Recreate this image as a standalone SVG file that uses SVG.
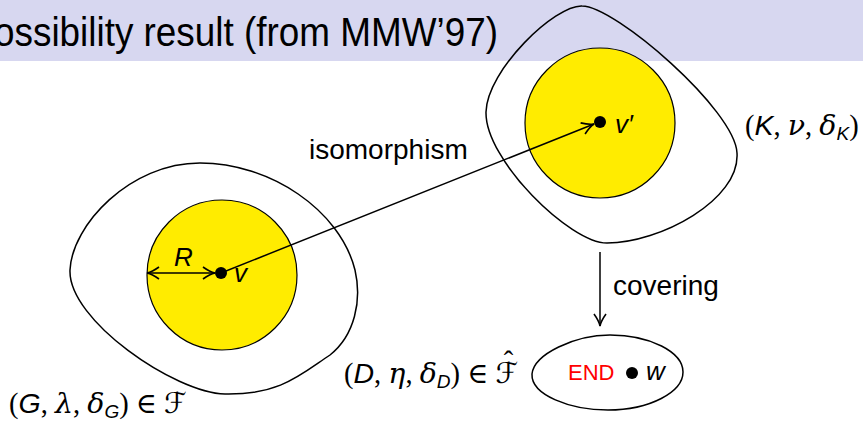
<svg xmlns="http://www.w3.org/2000/svg" width="863" height="424" viewBox="0 0 863 424">
<style>
.outline{fill:none;stroke:#000;stroke-width:1.5}
.disk{fill:#ffec00;stroke:#000;stroke-width:1.2}
.lbl{font-family:"Liberation Sans",Arial,sans-serif;font-size:28px;fill:#000}
.var{font-family:"Liberation Sans",Arial,sans-serif;font-style:italic;font-size:26px;fill:#000}
.math{font-family:"Liberation Serif","DejaVu Serif",serif;font-size:28.5px;fill:#000}
.gr{font-family:"DejaVu Serif","Liberation Serif",serif;font-style:italic}
.sv{font-family:"Liberation Sans",Arial,sans-serif;font-style:italic}
.sub{font-family:"Liberation Sans",Arial,sans-serif;font-style:italic;font-size:19px}
.cal{font-family:"DejaVu Serif","DejaVu Sans",serif;font-style:italic}
.conn{fill:none;stroke:#000;stroke-width:1.5}
</style>
<defs>
<marker id="ah" markerUnits="userSpaceOnUse" viewBox="-14 -8 16 16" markerWidth="16" markerHeight="16" refX="0" refY="0" orient="auto-start-reverse">
<path d="M -12,-6 Q -5,-1 0,0 Q -5,1 -12,6" fill="none" stroke="#000" stroke-width="1.6"/>
</marker>
</defs>
<rect x="0" y="0" width="863" height="61" fill="#d7d7f0"/>
<text x="-6" y="46" font-family="Liberation Sans,Arial,sans-serif" font-size="40" textLength="504" lengthAdjust="spacingAndGlyphs">ossibility result (from MMW’97)</text>

<g id="nodeG">
<path class="outline" d="M 70,270 C 72,225 130,163 200,163 C 270,163 340,210 355,270 C 362,300 355,335 330,355 C 300,375 280,395 225,394 C 175,393 68,320 70,270 Z"/>
<circle class="disk" cx="222" cy="275" r="75"/>
<circle cx="221" cy="273" r="6" fill="#000"/>
<text class="var" x="174" y="266">R</text>
<text class="var" x="234" y="282">v</text>
<text class="math" x="9" y="413">(<tspan class="sv">G</tspan>, <tspan class="gr">λ</tspan>, <tspan class="gr">δ</tspan><tspan class="sub" dy="5">G</tspan><tspan dy="-5">) ∈ </tspan><tspan class="cal">ℱ</tspan></text>
</g>

<g id="nodeK">
<path class="outline" d="M 582,6 C 555,5 487,70 486,112 C 485,160 570,243 607,243 C 660,243 740,200 737,153 C 735,110 615,6 582,6 Z"/>
<circle class="disk" cx="600" cy="123" r="75"/>
<circle cx="600" cy="122" r="6" fill="#000"/>
<text class="var" x="615" y="133">v′</text>
<text class="math" x="745" y="135">(<tspan class="sv">K</tspan>, <tspan class="gr">ν</tspan>, <tspan class="gr">δ</tspan><tspan class="sub" dy="5">K</tspan><tspan dy="-5">)</tspan></text>
</g>

<g id="nodeD">
<path class="outline" d="M 532,374 C 534,354 575,335 610,335 C 650,335 683,352 683,372 C 683,392 650,410 608,410 C 570,410 531,395 532,374 Z"/>
<text x="568" y="380" font-family="Liberation Sans,Arial,sans-serif" font-size="22" fill="#ff0000">END</text>
<circle cx="632" cy="373" r="6" fill="#000"/>
<text class="var" x="646" y="380">w</text>
<text class="math" x="344" y="383">(<tspan class="sv">D</tspan>, <tspan class="gr">η</tspan>, <tspan class="gr">δ</tspan><tspan class="sub" dy="5">D</tspan><tspan dy="-5">) ∈ </tspan><tspan class="cal">ℱ</tspan><tspan dx="-14" dy="-12">ˆ</tspan></text>
</g>

<g id="connectors">
<line class="conn" x1="221" y1="273" x2="594" y2="124" marker-end="url(#ah)"/>
<line class="conn" x1="147" y1="273" x2="215" y2="273" marker-start="url(#ah)" marker-end="url(#ah)"/>
<line class="conn" x1="600" y1="252" x2="600" y2="326" marker-end="url(#ah)"/>
<text class="lbl" x="309" y="159">isomorphism</text>
<text class="lbl" x="613" y="295">covering</text>
</g>
</svg>
